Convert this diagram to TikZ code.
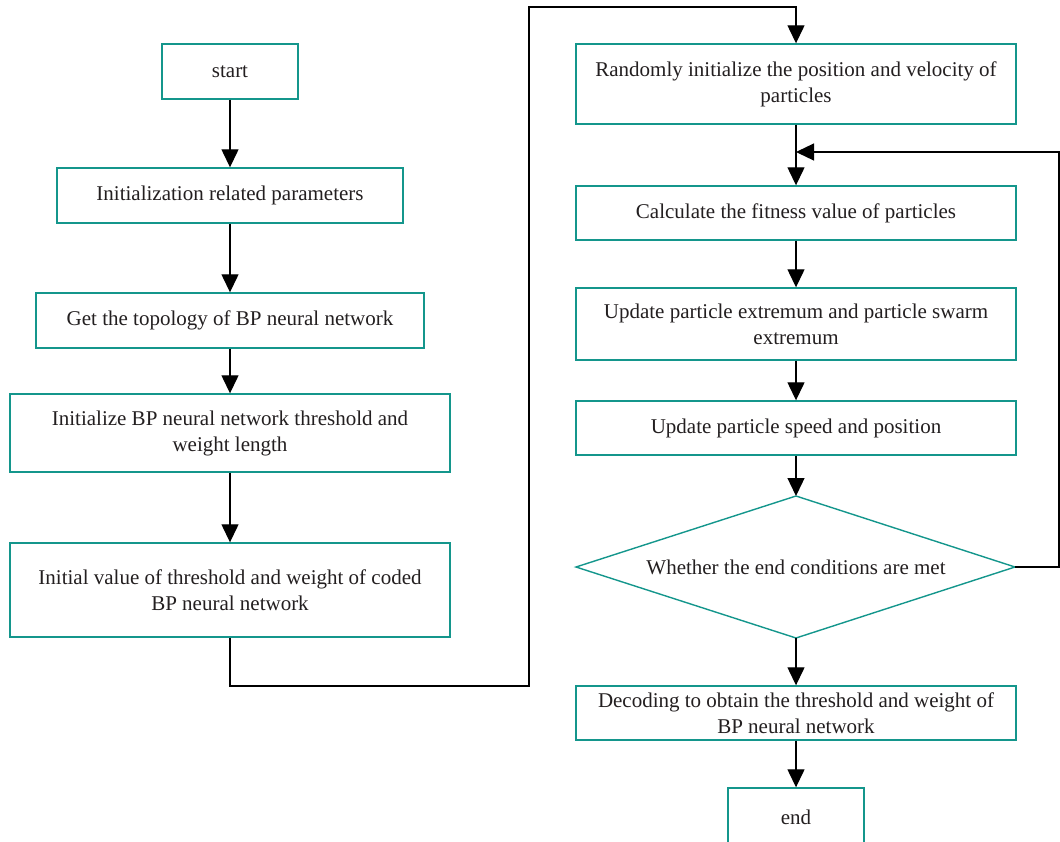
\documentclass[tikz,border=0pt]{standalone}
\usepackage{fontspec}
\setmainfont{Liberation Serif}
\usetikzlibrary{arrows.meta}
\definecolor{teal1}{RGB}{20,150,140}
\definecolor{ink}{RGB}{35,31,32}
\begin{document}
\begin{tikzpicture}[x=1pt,y=-1pt,
  txt/.style={align=center,inner sep=0pt,font=\fontsize{21}{26}\selectfont,text=ink},
  box/.style={txt,draw=teal1,line width=1.4pt,fill=white},
  conn/.style={draw=black,line width=1.3pt},
  arr/.style={conn,-{Triangle[width=17pt,length=18pt]}}]
\useasboundingbox (0,0) rectangle (1060,841);
\begin{scope}
\clip (0,0) rectangle (1060,841);
% left column
\node[box,minimum width=136pt,minimum height=55pt] (start) at (230,71.5) {start};
\node[box,minimum width=346pt,minimum height=55pt] (init) at (230,195.5) {Initialization related parameters};
\node[box,minimum width=388pt,minimum height=55pt] (topo) at (230,320.5) {Get the topology of BP neural network};
\node[box,minimum width=440pt,minimum height=78pt] (thr) at (230,433) {Initialize BP neural network threshold and\\weight length};
\node[box,minimum width=440pt,minimum height=94pt] (code) at (230,590) {Initial value of threshold and weight of coded\\BP neural network};
% right column
\node[box,minimum width=440pt,minimum height=80pt] (rand) at (796,84) {Randomly initialize the position and velocity of\\particles};
\node[box,minimum width=440pt,minimum height=54pt] (fit) at (796,213) {Calculate the fitness value of particles};
\node[box,minimum width=440pt,minimum height=72pt] (ext) at (796,324) {Update particle extremum and particle swarm\\extremum};
\node[box,minimum width=440pt,minimum height=54pt] (spd) at (796,428) {Update particle speed and position};
% decision diamond
\coordinate (condN) at (796,496);
\coordinate (condE) at (1015,567);
\coordinate (condS) at (796,638);
\coordinate (condW) at (576,567);
\draw[draw=teal1,line width=1.4pt] (condN) -- (condE) -- (condS) -- (condW) -- cycle;
\node[txt] (cond) at (796,567) {Whether the end conditions are met};
\node[box,minimum width=440pt,minimum height=54pt] (dec) at (796,713) {Decoding to obtain the threshold and weight of\\BP neural network};
\node[box,minimum width=136pt,minimum height=58pt] (end) at (796,817) {end};
\coordinate (la) at (230,686);
\coordinate (lb) at (529,686);
\coordinate (lc) at (529,7);
\coordinate (ld) at (796,7);
\coordinate (fa) at (1059,567);
\coordinate (fb) at (1059,152);
\coordinate (fc) at (796,152);
% connectors
\draw[arr] (start) -- (init);
\draw[arr] (init) -- (topo);
\draw[arr] (topo) -- (thr);
\draw[arr] (thr) -- (code);
\draw[arr] (code.south) -- (la) -- (lb) -- (lc) -- (ld) -- (rand.north);
\draw[arr] (rand) -- (fit);
\draw[arr] (fit) -- (ext);
\draw[arr] (ext) -- (spd);
\draw[arr] (spd) -- (condN);
\draw[arr] (condS) -- (dec);
\draw[arr] (dec) -- (end);
\draw[arr] (condE) -- (fa) -- (fb) -- (fc);
\end{scope}
\end{tikzpicture}
\end{document}
